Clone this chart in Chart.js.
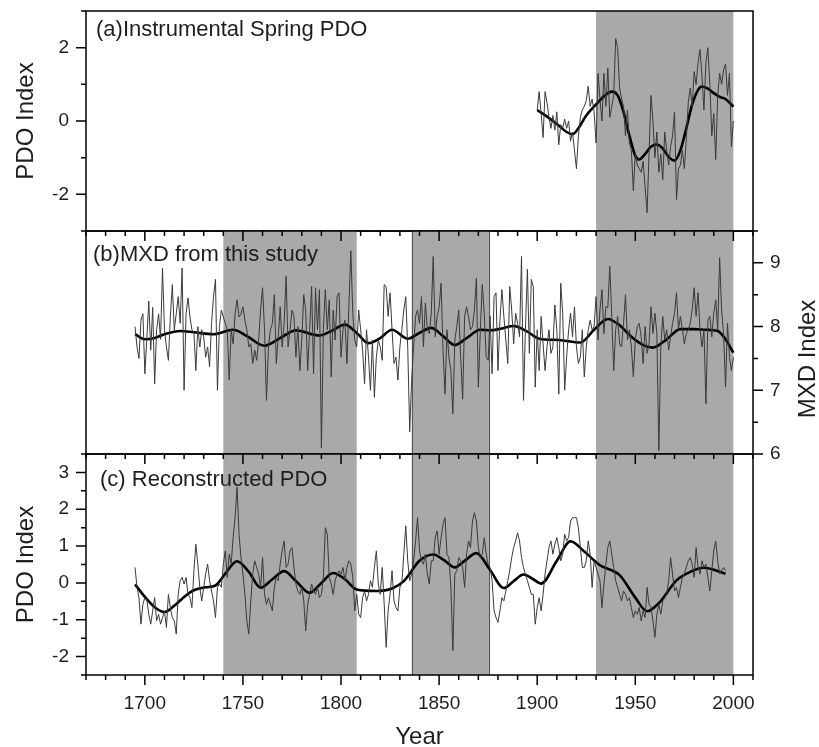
<!DOCTYPE html>
<html>
<head>
<meta charset="utf-8">
<script src="https://cdn.jsdelivr.net/npm/chart.js@4.4.0/dist/chart.umd.min.js"></script>
<style>
  html, body { margin: 0; padding: 0; background: #fff; }
  #wrap { position: relative; width: 819px; height: 747px; }
  #wrap canvas { position: absolute; left: 0; top: 0; }
</style>
</head>
<body>
<div id="wrap">
  <canvas id="chartA" width="819" height="747"></canvas>
  <canvas id="chartB" width="819" height="747"></canvas>
  <canvas id="chartC" width="819" height="747"></canvas>
</div>
<script>
// shared x axis (years)
const xMin = 1670, xMax = 2010;
const yearTicks = [1700, 1750, 1800, 1850, 1900, 1950, 2000];

// (a) instrumental spring PDO, annual from 1900
const startA = 1900;
const pdoInstrumental = [
  0.3, 0.8, 0.2, -0.45, 0.8, 0.5, 0.1, -0.2, 0.15, -0.25,
  0.25, -0.65, -0.1, -0.2, 0.05, -0.2, 0.0, -0.55, -0.3, -0.8,
  -1.3, -0.4, 0.1, 0.3, 0.4, 0.55, 0.95, 0.4, 0.6, 0.25,
  -0.6, 1.3, 0.6, 0.0, 1.3, 0.4, 1.45, 0.1, 0.4, 0.7,
  2.25, 2.0, 0.9, 0.6, 0.4, -0.4, 0.3, -0.6, -0.8, -1.9,
  -0.9, -1.2, -1.3, -1.4, -1.1, -1.8, -2.5, -0.9, 0.7, 0.0,
  -1.0, -0.3, -1.4, -0.9, -1.6, -0.3, -0.8, -1.2, -0.7, -0.4,
  0.25, -2.15, -1.3, -1.2, -0.8, -1.3, -0.5, 0.5, 0.9, 0.4,
  1.35, 1.0, 1.6, 1.95, 1.2, 0.3, 1.6, 2.0, 1.0, -0.4,
  0.2, -1.05, 0.7, 1.3, 1.0, 1.4, 1.55, 0.7, 1.3, -0.7,
  0.0
];
const smoothAYears = [1900, 1905, 1910, 1915, 1918, 1921, 1925, 1930, 1935, 1938, 1941, 1944, 1947, 1950, 1952, 1955,
  1958, 1961, 1964, 1967, 1970, 1973, 1976, 1979, 1982, 1984, 1987, 1990, 1993, 1996, 2000];
const smoothAValues = [0.3, 0.12, -0.08, -0.3, -0.36, -0.2, 0.15, 0.45, 0.72, 0.8, 0.7, 0.25, -0.4, -0.95, -1.05, -0.9,
  -0.7, -0.64, -0.75, -0.98, -1.08, -0.8, -0.2, 0.45, 0.85, 0.94, 0.88, 0.76, 0.66, 0.6, 0.39];
const pdoTicksA = [-2, 0, 2];

// (b) MXD from this study, annual from 1695
const startB = 1695;
const mxd = [
  8.0, 7.68, 7.5, 8.1, 8.2, 7.26, 7.8, 8.4, 7.63, 8.3,
  7.1, 7.95, 8.2, 7.8, 8.92, 7.95, 7.68, 7.47, 8.15, 8.66,
  7.95, 8.2, 8.47, 8.05, 8.92, 7.0, 8.2, 8.45, 8.15, 7.95,
  7.9, 7.31, 8.0, 7.68, 7.95, 7.84, 7.52, 7.68, 7.37, 8.05,
  8.47, 8.74, 7.0, 8.0, 8.26, 8.15, 8.05, 7.95, 7.16, 7.95,
  7.73, 8.2, 8.42, 8.15, 8.2, 8.31, 8.1, 7.95, 7.68, 7.73,
  7.42, 7.63, 7.47, 7.79, 8.26, 8.61, 7.95, 6.84, 7.68, 7.95,
  8.05, 8.5, 7.42, 7.84, 8.31, 7.68, 8.05, 8.79, 7.68, 7.95,
  8.26, 8.16, 7.52, 8.0, 7.31, 7.79, 8.5, 8.26, 7.31, 7.95,
  8.63, 7.26, 8.61, 7.95, 8.58, 6.1, 7.95, 8.58, 7.95, 8.42,
  7.21, 8.26, 7.79, 8.47, 8.53, 7.52, 7.95, 8.1, 7.42, 8.31,
  9.19, 8.21, 7.79, 7.68, 8.26, 7.95, 7.63, 7.1, 7.95, 7.52,
  7.0, 7.79, 6.89, 7.52, 7.79, 7.68, 7.47, 8.66, 8.63, 8.16,
  8.53, 7.95, 7.42, 7.52, 7.16, 7.68, 7.95, 8.26, 8.47, 7.68,
  6.35, 7.16, 7.68, 8.16, 8.26, 8.05, 8.47, 7.68, 8.37, 7.95,
  7.89, 8.21, 9.1, 7.84, 8.16, 8.3, 8.68, 7.63, 6.94, 7.95,
  7.52, 7.31, 6.63, 7.79, 8.0, 8.26, 7.52, 6.86, 8.16, 8.31,
  8.16, 7.95, 8.0, 8.26, 8.76, 7.05, 7.95, 8.66, 8.21, 7.52,
  7.47, 8.16, 7.26, 8.47, 8.53, 7.31, 8.1, 8.58, 8.16, 7.79,
  7.42, 8.63, 8.26, 7.73, 8.21, 8.05, 7.84, 9.1, 6.84, 7.95,
  8.9, 7.58, 8.74, 8.63, 7.05, 7.95, 7.31, 8.16, 7.73, 7.31,
  7.68, 7.95, 7.58, 7.68, 8.34, 7.95, 6.94, 8.68, 8.21, 7.0,
  7.52, 7.95, 8.21, 7.84, 8.31, 7.68, 7.42, 7.52, 7.95, 7.21,
  7.68, 7.95, 8.1, 7.95, 8.0, 8.47, 7.79, 8.26, 8.58, 7.89,
  8.31, 8.3, 8.95, 8.16, 7.31, 7.95, 8.16, 7.73, 7.68, 8.05,
  8.5, 7.79, 7.95, 7.68, 7.21, 7.79, 8.0, 8.05, 7.84, 7.42,
  8.0, 7.58, 7.73, 8.31, 7.89, 8.21, 7.89, 6.05, 7.68, 8.16,
  7.79, 7.95, 7.63, 7.84, 8.05, 8.21, 8.53, 7.95, 8.16, 7.95,
  7.73, 7.89, 7.95, 8.05, 8.26, 8.61, 8.16, 8.53, 7.95, 7.68,
  7.95, 6.79, 8.1, 8.16, 7.84, 8.21, 8.42, 7.95, 9.08, 8.26,
  7.89, 7.05, 8.05, 7.52, 7.31, 7.52
];
const smoothBYears = [1695, 1700, 1705, 1710, 1718, 1725, 1735, 1745, 1752, 1761, 1769, 1777, 1789, 1795, 1802, 1808,
  1814, 1820, 1826, 1834, 1840, 1846, 1852, 1858, 1864, 1871, 1876, 1882, 1888, 1895, 1901, 1911, 1922, 1929, 1936,
  1942, 1948, 1954, 1959, 1966, 1973, 1980, 1986, 1992, 1996, 2000];
const smoothBValues = [7.88, 7.80, 7.82, 7.88, 7.93, 7.91, 7.88, 7.95, 7.85, 7.70, 7.82, 7.94, 7.86, 7.93, 8.03, 7.90,
  7.74, 7.82, 7.95, 7.81, 7.90, 7.98, 7.85, 7.71, 7.82, 7.95, 7.94, 7.97, 8.01, 7.92, 7.81, 7.79, 7.75, 7.95, 8.12,
  8.02, 7.84, 7.71, 7.67, 7.80, 7.96, 7.96, 7.95, 7.93, 7.80, 7.59];
const mxdTicks = [6, 7, 8, 9];

// (c) reconstructed PDO, annual from 1695
const startC = 1695;
const pdoRecon = [
  0.42, -0.12, -0.4, -1.12, -0.58, -0.4, -0.45, -0.85, -1.12, -0.76,
  -0.4, -1.03, -0.85, -1.12, -0.94, -0.76, -1.21, -0.31, -0.67, -0.94,
  -1.03, -1.39, -0.31, 0.06, 0.15, -0.03, 0.15, -0.31, -0.4, -0.67,
  0.33, 1.05, 0.51, -0.12, -0.49, -0.12, 0.24, 0.51, 0.06, -0.22,
  -0.49, -0.94, -0.12, -0.03, -0.12, 0.51, 0.87, 0.15, 0.78, 0.51,
  1.23, 1.77, 2.6, 1.32, 0.69, 0.24, -0.31, -1.03, -1.39, -0.49,
  0.24, 0.6, 0.42, 0.24, -0.12, 0.69, -0.31, -0.58, -0.4, -0.58,
  -0.76, -0.12, 0.15, 0.06, 0.51, 0.87, 1.14, 0.42, 0.51, 0.87,
  0.96, 0.42, -0.03, -0.22, -0.31, -0.12, -0.49, -1.3, -0.58, -0.31,
  -0.03, -0.22, -0.31, -0.12, -0.4, -0.31, 0.15, 1.5, 1.32, 0.15,
  -0.03, -0.31, 0.06, 0.24, 0.33, 0.24, 0.42, 0.06, 0.42, 0.6,
  0.51, 0.15, -0.76, -0.31, -0.85, -0.94, -0.4, -0.22, -0.49, -0.31,
  0.06, -0.12, 0.42, 0.87, -0.03, -0.31, 0.42, -0.58, -1.75, -0.76,
  -0.31, 0.33, -0.49, -0.67, -0.76, -0.12, 0.0, 0.78, 1.55, 0.6,
  0.06, 0.24, 0.6, 1.14, 1.77, 0.87, 0.6, 0.51, 0.78, 0.24,
  -0.03, 0.6, 0.6, 1.23, 1.41, 0.78, 1.23, 1.59, 1.77, 0.78,
  0.69, -0.12, -1.84, 0.24, 0.33, 0.69, 0.6, 0.42, -0.12, 0.78,
  1.14, 0.96, 1.68, 1.91, 1.68, 0.96, 0.69, 0.78, 1.23, 0.78,
  0.51, 0.42, 0.06, -0.76, -0.94, -1.07, -0.76, -0.4, -0.49, -0.22,
  0.06, 0.33, 0.69, 0.96, 1.14, 1.36, 1.14, 0.69, 0.42, 0.24,
  0.06, -0.12, -0.31, -0.31, -1.12, -0.67, -0.4, -0.76, -0.31, 0.24,
  0.6, 0.96, 1.14, 0.78, 1.05, 1.23, 0.96, 0.6, 0.78, 1.32,
  1.14, 1.23, 1.68, 1.77, 1.77, 1.77, 1.5, 0.96, 0.42, 0.42,
  0.6, 1.14, 0.78, -0.12, 0.6, 0.42, 0.24, 0.06, -0.67, -0.03,
  0.51, 0.96, 1.14, 0.78, 0.42, 0.06, -0.12, -0.31, -0.49, -0.22,
  -0.31, -0.49, -0.4, -0.67, -0.94, -0.76, -0.85, -0.67, -1.03, -0.76,
  -0.94, -0.12, -0.58, -0.67, -1.03, -1.48, -0.85, -0.58, -0.85, -0.49,
  -0.4, -0.31, 0.06, 0.69, 0.24, -0.22, -0.12, -0.4, -0.12, 0.15,
  0.24, 0.42, 0.6, 0.69, 0.51, 0.15, 0.96, 0.42, 0.24, 0.6,
  0.42, 0.51, 0.15, -0.22, 0.33, 0.87, 1.14, 0.6, 0.24, 0.33,
  0.42, 0.33
];
const smoothCYears = [1695, 1700, 1705, 1710, 1715, 1720, 1725, 1731, 1736, 1741, 1747, 1753, 1759, 1765, 1771, 1777,
  1784, 1790, 1796, 1802, 1808, 1818, 1826, 1832, 1840, 1847, 1853, 1858, 1863, 1869, 1876, 1883, 1888, 1893, 1898,
  1902, 1910, 1917, 1924, 1932, 1942, 1950, 1956, 1962, 1971, 1978, 1985, 1996];
const smoothCValues = [-0.04, -0.38, -0.66, -0.79, -0.62, -0.38, -0.2, -0.12, -0.07, 0.25, 0.59, 0.3, -0.13, 0.1, 0.32,
  0.05, -0.27, 0.0, 0.27, 0.1, -0.18, -0.22, -0.15, 0.05, 0.6, 0.77, 0.6, 0.42, 0.6, 0.81, 0.35, -0.14, 0.05, 0.23,
  0.1, -0.02, 0.6, 1.13, 0.85, 0.48, 0.21, -0.4, -0.77, -0.55, 0.07, 0.3, 0.41, 0.25];
const pdoTicksC = [-2, -1, 0, 1, 2, 3];

// shaded periods
const bandsA = [[1930, 2000]];
const bandsBC = [[1740, 1808], [1836, 1876], [1930, 2000]];

const FONT = '"Liberation Sans", Arial, sans-serif';
const tickFont = { family: FONT, size: 19 };
const titleFont = { family: FONT, size: 24, lineHeight: 1 };
const textColor = '#1e1e1e';
const thinColor = '#3a3a3a';

function annual(start, values) {
  return values.map((v, i) => ({ x: start + i, y: v }));
}
function paired(years, values) {
  return years.map((yr, i) => ({ x: yr, y: values[i] }));
}

function thinSet(points) {
  return { data: points, borderColor: thinColor, borderWidth: 1, pointRadius: 0, tension: 0 };
}
function smoothSet(points) {
  return { data: points, borderColor: '#000', borderWidth: 2.6, pointRadius: 0, cubicInterpolationMode: 'monotone' };
}

// draws shading, frame, tick marks and the panel caption
function panelDecor(cfg) {
  return {
    id: 'decor',
    beforeDatasetsDraw(chart) {
      const { ctx, chartArea: a } = chart;
      const x = chart.scales.x;
      ctx.save();
      cfg.bands.forEach(([s, e]) => {
        const x0 = x.getPixelForValue(s), x1 = x.getPixelForValue(e);
        ctx.fillStyle = '#a9a9a9';
        ctx.fillRect(x0, a.top, x1 - x0, a.bottom - a.top);
        if (s === 1836) {
          ctx.strokeStyle = '#555';
          ctx.lineWidth = 1;
          ctx.beginPath();
          ctx.moveTo(Math.round(x0) + 0.5, a.top); ctx.lineTo(Math.round(x0) + 0.5, a.bottom);
          ctx.moveTo(Math.round(x1) - 0.5, a.top); ctx.lineTo(Math.round(x1) - 0.5, a.bottom);
          ctx.stroke();
        }
      });
      ctx.restore();
    },
    afterDraw(chart) {
      const { ctx, chartArea: a } = chart;
      const x = chart.scales.x, y = chart.scales.y;
      ctx.save();
      ctx.strokeStyle = '#000';
      ctx.lineWidth = 1.5;
      ctx.strokeRect(a.left, a.top, a.right - a.left, a.bottom - a.top);

      ctx.beginPath();
      // year ticks
      for (let v = x.min; v <= x.max; v += 10) {
        const px = x.getPixelForValue(v);
        const len = yearTicks.includes(v) ? 10 : 5;
        if (cfg.topTicks) { ctx.moveTo(px, a.top); ctx.lineTo(px, a.top + len); }
        if (cfg.bottomTicks) { ctx.moveTo(px, a.bottom); ctx.lineTo(px, a.bottom + len); }
      }
      // value ticks
      const labelled = y.ticks.map(t => t.value);
      for (let v = y.min; v <= y.max + 1e-9; v += cfg.yMinor) {
        const py = y.getPixelForValue(v);
        const len = labelled.some(l => Math.abs(l - v) < 1e-6) ? 10 : 5;
        if (cfg.side === 'left') { ctx.moveTo(a.left - len, py); ctx.lineTo(a.left, py); }
        else { ctx.moveTo(a.right, py); ctx.lineTo(a.right + len, py); }
      }
      ctx.stroke();

      ctx.fillStyle = textColor;
      ctx.font = '22px ' + FONT;
      ctx.textBaseline = 'middle';
      ctx.textAlign = 'left';
      ctx.fillText(cfg.caption, cfg.capX, cfg.capY);

      if (cfg.rightTitle) {
        ctx.translate(cfg.rightTitle.x, cfg.rightTitle.y);
        ctx.rotate(-Math.PI / 2);
        ctx.textAlign = 'center';
        ctx.font = '24px ' + FONT;
        ctx.fillText(cfg.rightTitle.text, 0, 0);
      }
      ctx.restore();
    }
  };
}

const common = {
  responsive: false,
  animation: false,
  devicePixelRatio: 1,
  plugins: { legend: { display: false }, tooltip: { enabled: false } }
};
const hiddenX = { type: 'linear', min: xMin, max: xMax, display: false };

function yAxis(min, max, ticks, position, width, title) {
  return {
    type: 'linear', position: position, min: min, max: max,
    grid: { display: false, drawTicks: false },
    border: { display: false },
    afterBuildTicks: s => { s.ticks = ticks.map(v => ({ value: v })); },
    afterFit: s => { s.width = width; s.paddingTop = 0; s.paddingBottom = 0; },
    ticks: { padding: 17, font: tickFont, color: textColor, callback: v => String(v) },
    title: title ? { display: true, text: title, font: titleFont, color: textColor, padding: { top: 14, bottom: 0 } } : { display: false }
  };
}

// panel (a)
new Chart(document.getElementById('chartA'), {
  type: 'line',
  data: { datasets: [thinSet(annual(startA, pdoInstrumental)), smoothSet(paired(smoothAYears, smoothAValues))] },
  options: Object.assign({}, common, {
    layout: { padding: { top: 11, right: 66, bottom: 516, left: 0 } },
    scales: { x: hiddenX, y: yAxis(-3, 3, pdoTicksA, 'left', 86, 'PDO Index') }
  }),
  plugins: [panelDecor({ bands: bandsA, side: 'left', yMinor: 1, topTicks: false, bottomTicks: false,
    caption: '(a)Instrumental Spring PDO', capX: 96, capY: 30 })]
});

// panel (b)
new Chart(document.getElementById('chartB'), {
  type: 'line',
  data: { datasets: [thinSet(annual(startB, mxd)), smoothSet(paired(smoothBYears, smoothBValues))] },
  options: Object.assign({}, common, {
    layout: { padding: { top: 231, right: 0, bottom: 293, left: 86 } },
    scales: { x: hiddenX, y: yAxis(6, 9.5, mxdTicks, 'right', 66, null) }
  }),
  plugins: [panelDecor({ bands: bandsBC, side: 'right', yMinor: 0.5, topTicks: true, bottomTicks: false,
    caption: '(b)MXD from this study', capX: 93, capY: 255,
    rightTitle: { text: 'MXD Index', x: 808, y: 359 } })]
});

// panel (c)
new Chart(document.getElementById('chartC'), {
  type: 'line',
  data: { datasets: [thinSet(annual(startC, pdoRecon)), smoothSet(paired(smoothCYears, smoothCValues))] },
  options: Object.assign({}, common, {
    layout: { padding: { top: 454, right: 66, bottom: 0, left: 0 } },
    scales: {
      x: {
        type: 'linear', position: 'bottom', min: xMin, max: xMax,
        grid: { display: false, drawTicks: false },
        border: { display: false },
        afterBuildTicks: s => { s.ticks = yearTicks.map(v => ({ value: v })); },
        afterFit: s => { s.height = 72; s.paddingLeft = 0; s.paddingRight = 0; },
        ticks: { padding: 17, autoSkip: false, maxRotation: 0, font: tickFont, color: textColor, callback: v => String(v) },
        title: { display: true, text: 'Year', font: titleFont, color: textColor, padding: { top: 0, bottom: -2 } }
      },
      y: yAxis(-2.5, 3.5, pdoTicksC, 'left', 86, 'PDO Index')
    }
  }),
  plugins: [panelDecor({ bands: bandsBC, side: 'left', yMinor: 0.5, topTicks: true, bottomTicks: true,
    caption: '(c) Reconstructed PDO', capX: 100, capY: 480 })]
});
</script>
</body>
</html>
